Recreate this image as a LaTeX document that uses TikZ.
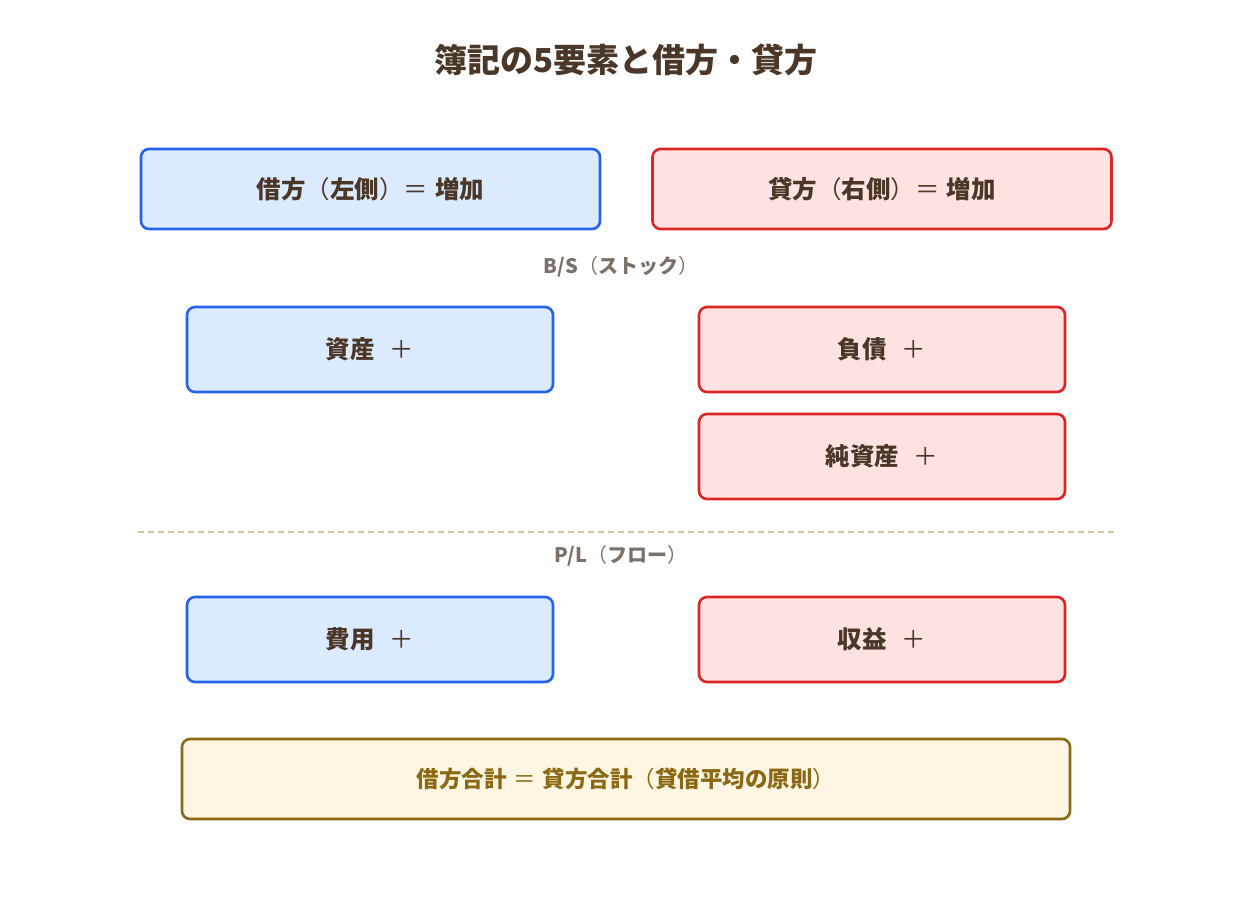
\documentclass[tikz,border=0pt]{standalone}
\usepackage{fontspec}
\setmainfont{Noto Sans CJK JP}
\definecolor{blueS}{HTML}{2563EB}
\definecolor{blueF}{HTML}{DBEAFE}
\definecolor{redS}{HTML}{DC2626}
\definecolor{redF}{HTML}{FEE2E2}
\definecolor{goldS}{HTML}{8B6914}
\definecolor{goldF}{HTML}{FEF6E2}
\definecolor{txt}{HTML}{4A3728}
\definecolor{lbl}{HTML}{7D7068}
\definecolor{dsh}{HTML}{D6C4A0}
\newcommand{\eqsign}{{\mdseries ＝}}
\newcommand{\plussign}{\hspace{0.6em}{\mdseries ＋}}
\newcommand{\lp}{{\mdseries （}}
\newcommand{\rp}{{\mdseries ）}}
\begin{document}
\begin{tikzpicture}[x=1pt,y=-1pt,
  box/.style={draw, rounded corners=8pt, line width=2.6pt, inner sep=0pt, text=txt, font=\fontsize{24.5}{28}\selectfont\bfseries},
  dbox/.style={box, draw=blueS, fill=blueF},
  cbox/.style={box, draw=redS, fill=redF},
  sumbox/.style={box, draw=goldS, fill=goldF, text=goldS, font=\fontsize{22.5}{26}\selectfont\bfseries},
  sect/.style={text=lbl, font=\fontsize{20}{24}\selectfont\bfseries, inner sep=0pt}]
\useasboundingbox (0,0) rectangle (1252,899);
\node[text=txt, font=\fontsize{33}{38}\selectfont\bfseries, inner sep=0pt] (title) at (626,60) {簿記の5要素と借方・貸方};
\node[dbox, minimum width=459pt, minimum height=80pt] (debit) at (370.5,189) {借方\lp 左側\rp\eqsign\hspace{0.28em}増加};
\node[cbox, minimum width=459pt, minimum height=80pt] (credit) at (882,189) {貸方\lp 右側\rp\eqsign\hspace{0.28em}増加};
\node[sect] (bs) at (621,267) {B/S\lp ストック\rp};
\node[dbox, minimum width=366pt, minimum height=85pt] (asset) at (370,349.5) {資産\plussign};
\node[cbox, minimum width=366pt, minimum height=85pt] (liab) at (882,349.5) {負債\plussign};
\node[cbox, minimum width=366pt, minimum height=85pt] (equity) at (882,456.5) {純資産\plussign};
\coordinate (dl) at (138,532);
\coordinate (dr) at (1115,532);
\draw[dsh, line width=1.6pt, dash pattern=on 6pt off 4pt] (dl) -- (dr);
\node[sect] (pl) at (621,556) {P/L\lp フロー\rp};
\node[dbox, minimum width=366pt, minimum height=85pt] (expense) at (370,639.5) {費用\plussign};
\node[cbox, minimum width=366pt, minimum height=85pt] (revenue) at (882,639.5) {収益\plussign};
\node[sumbox, minimum width=888pt, minimum height=80pt] (sum) at (626,779) {借方合計\hspace{0.3em}\eqsign\hspace{0.3em}貸方合計\lp 貸借平均の原則\rp};
\end{tikzpicture}
\end{document}
